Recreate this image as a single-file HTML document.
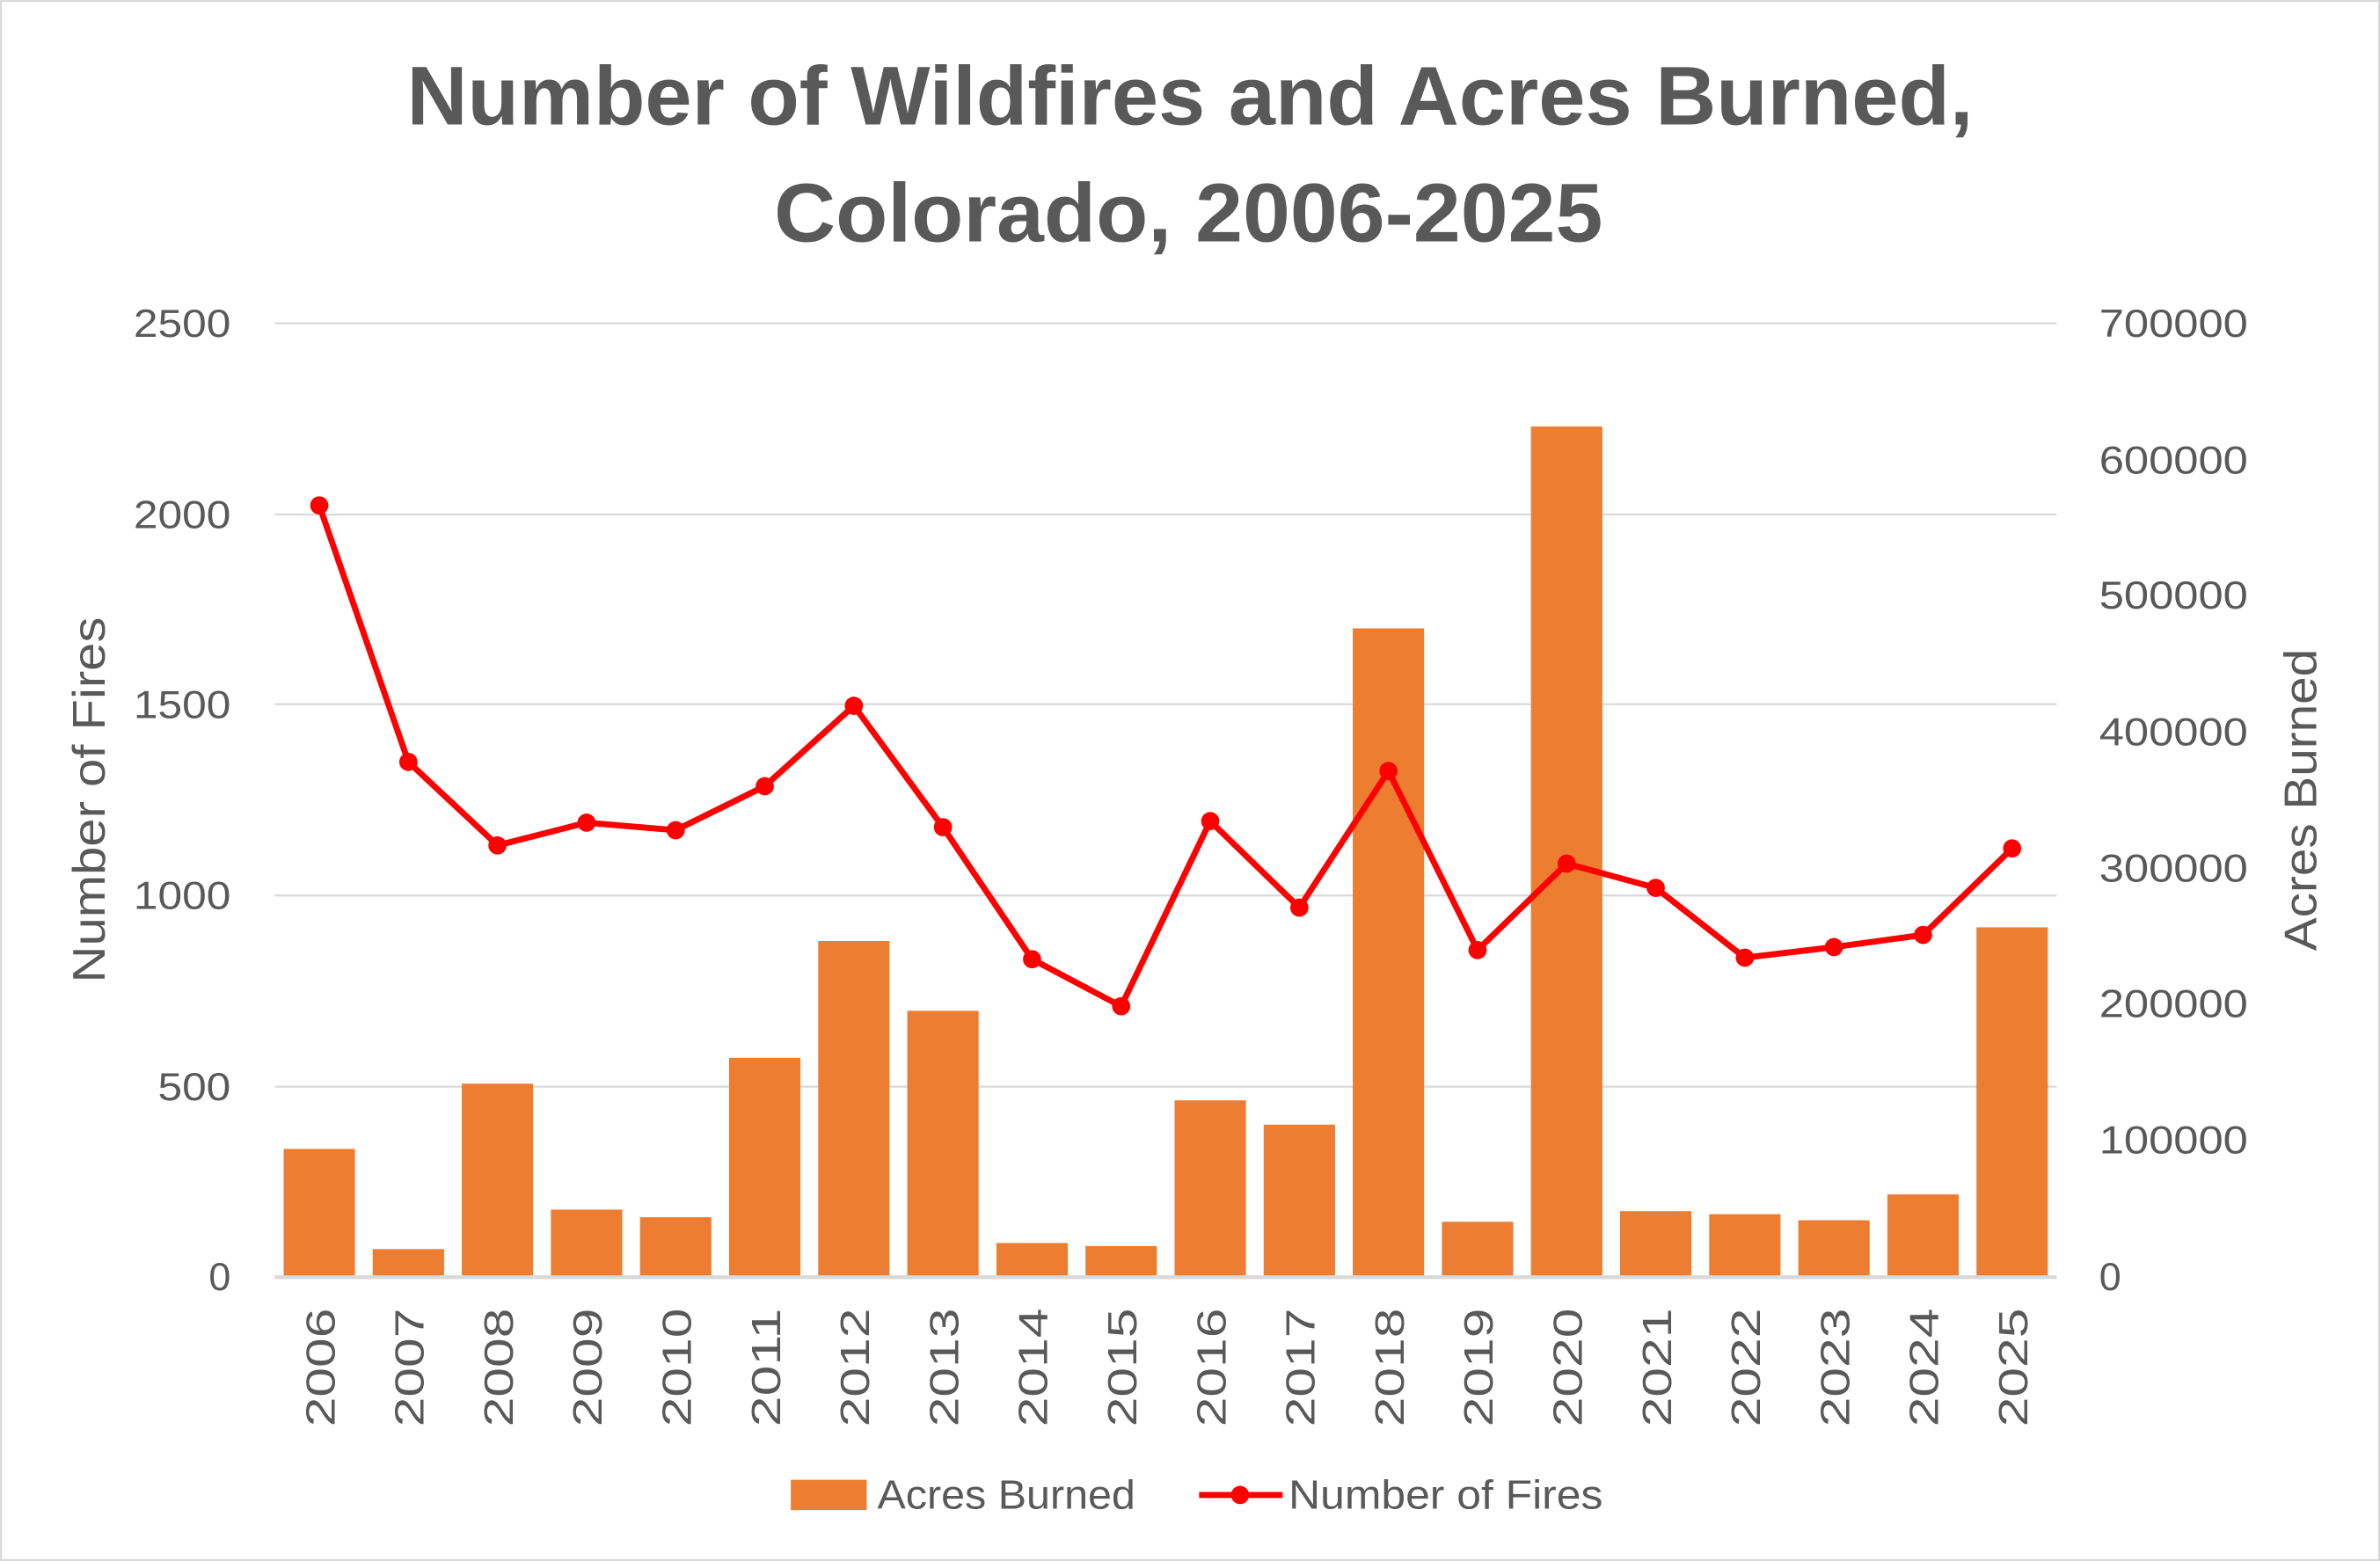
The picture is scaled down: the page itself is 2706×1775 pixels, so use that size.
<!DOCTYPE html>
<html><head><meta charset="utf-8"><style>html,body{margin:0;padding:0;background:#fff}svg{display:block}</style></head>
<body>
<svg width="2706" height="1775" viewBox="0 0 1568 1028.5" xmlns="http://www.w3.org/2000/svg" font-family="Liberation Sans, sans-serif">
<rect x="0.5" y="0.5" width="1567" height="1027.5" fill="#fff" stroke="#d9d9d9" stroke-width="1.5"/>
<g fill="#595959" font-weight="bold" font-size="55" text-anchor="middle">
<text x="784" y="82" textLength="1032" lengthAdjust="spacingAndGlyphs">Number of Wildfires and Acres Burned,</text>
<text x="783" y="159" textLength="546" lengthAdjust="spacingAndGlyphs">Colorado, 2006-2025</text>
</g>
<g stroke="#d9d9d9" stroke-width="1.3">
<line x1="181" x2="1355" y1="213" y2="213"/><line x1="181" x2="1355" y1="339" y2="339"/>
<line x1="181" x2="1355" y1="464" y2="464"/><line x1="181" x2="1355" y1="590" y2="590"/>
<line x1="181" x2="1355" y1="716" y2="716"/>
</g>
<g fill="#ED7D31" id="bars"></g>
<line x1="181" x2="1355" y1="841.5" y2="841.5" stroke="#d9d9d9" stroke-width="2.5"/>
<g fill="#595959" font-size="26" text-anchor="end">
<text x="152" y="222" textLength="64" lengthAdjust="spacingAndGlyphs">2500</text><text x="152" y="348" textLength="64" lengthAdjust="spacingAndGlyphs">2000</text><text x="152" y="473" textLength="64" lengthAdjust="spacingAndGlyphs">1500</text>
<text x="152" y="599" textLength="64" lengthAdjust="spacingAndGlyphs">1000</text><text x="152" y="725" textLength="48" lengthAdjust="spacingAndGlyphs">500</text><text x="152" y="850">0</text>
</g>
<g fill="#595959" font-size="26" text-anchor="start">
<text x="1383" y="222" textLength="98" lengthAdjust="spacingAndGlyphs">700000</text><text x="1383" y="312" textLength="98" lengthAdjust="spacingAndGlyphs">600000</text><text x="1383" y="401" textLength="98" lengthAdjust="spacingAndGlyphs">500000</text>
<text x="1383" y="491" textLength="98" lengthAdjust="spacingAndGlyphs">400000</text><text x="1383" y="581" textLength="98" lengthAdjust="spacingAndGlyphs">300000</text><text x="1383" y="670" textLength="98" lengthAdjust="spacingAndGlyphs">200000</text>
<text x="1383" y="760" textLength="98" lengthAdjust="spacingAndGlyphs">100000</text><text x="1383" y="850">0</text>
</g>
<text transform="translate(69,527) rotate(-90)" text-anchor="middle" font-size="30" fill="#595959" textLength="241" lengthAdjust="spacingAndGlyphs">Number of Fires</text>
<text transform="translate(1526,527) rotate(-90)" text-anchor="middle" font-size="30" fill="#595959" textLength="199" lengthAdjust="spacingAndGlyphs">Acres Burned</text>
<g id="xl" fill="#595959" font-size="27"></g>
<polyline id="ln" fill="none" stroke="#FF0000" stroke-width="4" stroke-linejoin="round"/>
<g id="dots" fill="#FF0000"></g>
<rect x="521" y="975" width="50" height="20" fill="#ED7D31"/>
<text x="578" y="994" font-size="27" fill="#595959" textLength="170" lengthAdjust="spacingAndGlyphs">Acres Burned</text>
<line x1="790" x2="845" y1="985" y2="985" stroke="#FF0000" stroke-width="4"/>
<circle cx="817" cy="985" r="6" fill="#FF0000"/>
<text x="849" y="994" font-size="27" fill="#595959" textLength="207" lengthAdjust="spacingAndGlyphs">Number of Fires</text>
<script>
var tops=[757,823,714,797,802,697,620,666,819,821,725,741,414,805,281,798,800,804,787,611];
var ly=[333,502,557,542,547,518,465,545,632,663,541,598,508,626,569,585,631,624,616,559];
var ns="http://www.w3.org/2000/svg",b=document.getElementById('bars'),xl=document.getElementById('xl'),d=document.getElementById('dots'),pts=[];
for(var i=0;i<20;i++){var cx=181+58.7*(i+0.5);
var r=document.createElementNS(ns,'rect');r.setAttribute('x',cx-23.5);r.setAttribute('y',tops[i]);r.setAttribute('width',47);r.setAttribute('height',841-tops[i]);b.appendChild(r);
var t=document.createElementNS(ns,'text');t.setAttribute('transform','translate('+(cx+10)+',862) rotate(-90)');t.setAttribute('text-anchor','end');t.setAttribute('textLength','78');t.setAttribute('lengthAdjust','spacingAndGlyphs');t.textContent=2006+i;xl.appendChild(t);
var c=document.createElementNS(ns,'circle');c.setAttribute('cx',cx);c.setAttribute('cy',ly[i]);c.setAttribute('r',6);d.appendChild(c);
pts.push(cx+','+ly[i]);}
document.getElementById('ln').setAttribute('points',pts.join(' '));
</script>
</svg>
</body></html>
